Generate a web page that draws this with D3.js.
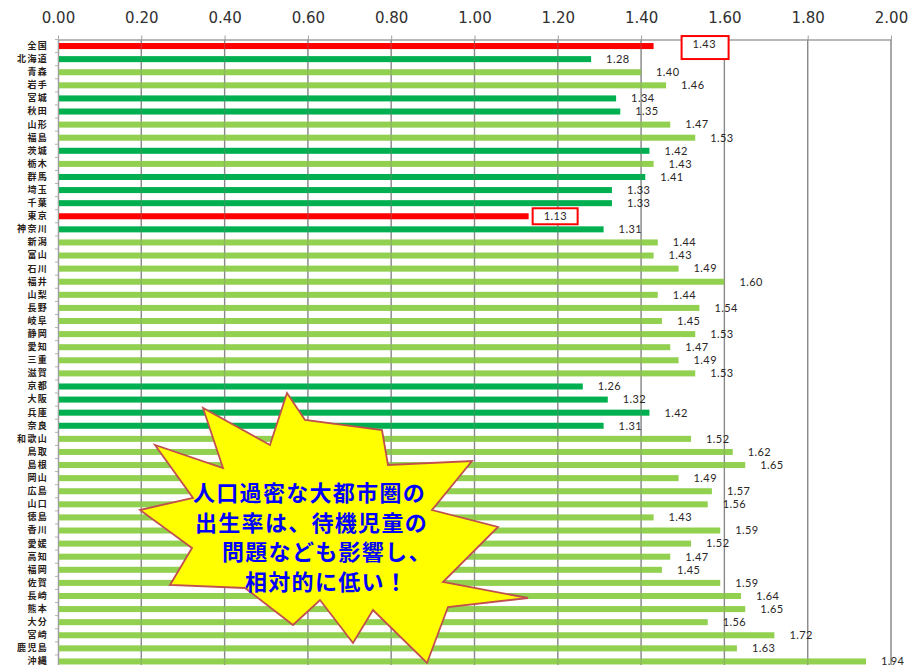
<!DOCTYPE html>
<html>
<head>
<meta charset="utf-8">
<script src="https://cdn.jsdelivr.net/npm/d3@7"></script>
<style>
  body { margin: 0; background: #fff; }
  svg { display: block; }
</style>
</head>
<body>
<svg id="chart" width="919" height="665"></svg>
<script>
(function (d3) {
  'use strict';

  // 都道府県別 合計特殊出生率
  const prefectures = [
    '全国', '北海道', '青森', '岩手', '宮城', '秋田', '山形', '福島', '茨城', '栃木',
    '群馬', '埼玉', '千葉', '東京', '神奈川', '新潟', '富山', '石川', '福井', '山梨',
    '長野', '岐阜', '静岡', '愛知', '三重', '滋賀', '京都', '大阪', '兵庫', '奈良',
    '和歌山', '鳥取', '島根', '岡山', '広島', '山口', '徳島', '香川', '愛媛', '高知',
    '福岡', '佐賀', '長崎', '熊本', '大分', '宮崎', '鹿児島', '沖縄'
  ];
  const rates = [
    1.43, 1.28, 1.40, 1.46, 1.34, 1.35, 1.47, 1.53, 1.42, 1.43,
    1.41, 1.33, 1.33, 1.13, 1.31, 1.44, 1.43, 1.49, 1.60, 1.44,
    1.54, 1.45, 1.53, 1.47, 1.49, 1.53, 1.26, 1.32, 1.42, 1.31,
    1.52, 1.62, 1.65, 1.49, 1.57, 1.56, 1.43, 1.59, 1.52, 1.47,
    1.45, 1.59, 1.64, 1.65, 1.56, 1.72, 1.63, 1.94
  ];
  // red = 強調, dark green = 大都市圏, light green = その他
  const highlighted = ['全国', '東京'];
  const metro = ['北海道', '宮城', '秋田', '茨城', '群馬', '埼玉', '千葉', '神奈川',
                 '京都', '大阪', '兵庫', '奈良'];
  const xTicks = [0, 0.2, 0.4, 0.6, 0.8, 1.0, 1.2, 1.4, 1.6, 1.8, 2.0];
  const calloutLines = [
    '人口過密な大都市圏の',
    '出生率は、待機児童の',
    '問題なども影響し、',
    '相対的に低い！'
  ];

  const RED = '#ff0000';
  const DARK_GREEN = '#00b050';
  const LIGHT_GREEN = '#92d050';

  const rows = prefectures.map((name, i) => ({ name, value: rates[i] }));

  const svg = d3.select('#chart');
  const left = 58, right = 891, top = 39.5, bottom = 668;

  const x = d3.scaleLinear().domain([0, 2]).range([left, right]);
  const y = d3.scaleBand()
    .domain(prefectures)
    .range([top, bottom])
    .paddingInner(0.54)
    .paddingOuter(0.27);

  const barColor = (d) => highlighted.includes(d.name) ? RED
    : metro.includes(d.name) ? DARK_GREEN : LIGHT_GREEN;

  // gridlines (behind)
  svg.append('g')
    .selectAll('line')
    .data(xTicks.slice(1))
    .enter()
    .append('line')
    .attr('x1', (t) => x(t)).attr('x2', (t) => x(t))
    .attr('y1', top).attr('y2', 665)
    .attr('stroke', '#8c8c8c')
    .attr('stroke-width', 1.3);

  // top axis
  const xAxis = svg.append('g')
    .attr('transform', `translate(0,${top})`)
    .call(d3.axisTop(x).tickValues(xTicks).tickFormat(d3.format('.2f'))
      .tickSize(4).tickPadding(12.5).tickSizeOuter(0));
  xAxis.select('.domain').attr('stroke', '#a0a0a0').attr('stroke-width', 1.5);
  xAxis.selectAll('.tick line').attr('stroke', '#a0a0a0');
  xAxis.selectAll('text')
    .attr('fill', '#303030')
    .style('font-family', '"DejaVu Sans", sans-serif')
    .style('font-size', '15px');

  // left axis with category names
  const yAxis = svg.append('g')
    .attr('transform', `translate(${left},0)`)
    .call(d3.axisLeft(y).tickSize(0).tickPadding(10));
  yAxis.select('.domain').attr('stroke', '#a0a0a0').attr('stroke-width', 1.5);
  yAxis.selectAll('text')
    .attr('fill', '#2a2218')
    .style('font-family', '"Noto Sans CJK JP", sans-serif')
    .style('font-size', '9px')
    .style('letter-spacing', '1.3px')
    .style('font-weight', 700);
  // small ticks at band boundaries
  yAxis.append('g')
    .selectAll('line')
    .data(prefectures)
    .enter()
    .append('line')
    .attr('x1', -3).attr('x2', 0)
    .attr('y1', (n) => y(n) - y.step() * y.paddingInner() / 2)
    .attr('y2', (n) => y(n) - y.step() * y.paddingInner() / 2)
    .attr('stroke', '#b0b0b0');

  // bars
  svg.append('g')
    .selectAll('rect')
    .data(rows)
    .enter()
    .append('rect')
    .attr('x', x(0) + 1)
    .attr('y', (d) => y(d.name))
    .attr('width', (d) => x(d.value) - x(0) - 1)
    .attr('height', y.bandwidth())
    .attr('fill', barColor);

  // gridline crossings over the bars
  svg.append('g')
    .selectAll('line')
    .data(xTicks.slice(1))
    .enter()
    .append('line')
    .attr('x1', (t) => x(t)).attr('x2', (t) => x(t))
    .attr('y1', top).attr('y2', 665)
    .attr('stroke', '#808080')
    .attr('stroke-opacity', 0.35)
    .attr('stroke-width', 1.3);

  // value labels
  const labelDx = (d) => d.name === '全国' ? 39 : 15;
  const labels = svg.append('g');

  // boxes for highlighted values
  labels.selectAll('rect')
    .data(rows.filter((d) => highlighted.includes(d.name)))
    .enter()
    .append('rect')
    .attr('x', (d) => x(d.value) + labelDx(d) - 11)
    .attr('y', (d) => d.name === '全国' ? y(d.name) + y.bandwidth() / 2 - 10
                                        : y(d.name) + y.bandwidth() / 2 - 8)
    .attr('width', (d) => d.name === '全国' ? 47 : 45)
    .attr('height', (d) => d.name === '全国' ? 23 : 16)
    .attr('fill', '#fff')
    .attr('stroke', RED)
    .attr('stroke-width', 2);

  labels.selectAll('text')
    .data(rows)
    .enter()
    .append('text')
    .attr('x', (d) => x(d.value) + labelDx(d))
    .attr('y', (d) => y(d.name) + y.bandwidth() / 2 + (d.name === '全国' ? -2 : 0))
    .attr('dy', '0.35em')
    .attr('fill', '#2a2626')
    .style('font-family', 'Lato, sans-serif')
    .style('font-size', '11px')
    .style('letter-spacing', '0.4px')
    .text((d) => d3.format('.2f')(d.value));

  // starburst callout
  const burst = [
    [287, 393], [305, 420], [382, 430], [388, 465], [472, 461], [432, 510],
    [498, 527], [443, 582], [528, 598], [448, 607], [427, 663], [373, 610],
    [353, 643], [320, 600], [293, 625], [245, 588], [170, 585], [192, 548],
    [140, 510], [193, 498], [155, 445], [223, 468], [203, 408], [270, 445]
  ];
  svg.append('polygon')
    .attr('points', burst.map((p) => p.join(',')).join(' '))
    .attr('fill', '#ffff00')
    .attr('stroke', '#c0504d')
    .attr('stroke-width', 1.8)
    .attr('stroke-linejoin', 'miter');

  const lineX = [193, 195, 222, 245];
  svg.append('g')
    .selectAll('text')
    .data(calloutLines)
    .enter()
    .append('text')
    .attr('x', (d, i) => lineX[i])
    .attr('y', (d, i) => 501 + i * 29.5)
    .attr('fill', '#0000ff')
    .style('font-family', '"Noto Sans CJK JP", sans-serif')
    .style('font-size', '22px')
    .style('font-weight', 700)
    .style('letter-spacing', '1.3px')
    .text((d) => d);

}(d3));
</script>
</body>
</html>
